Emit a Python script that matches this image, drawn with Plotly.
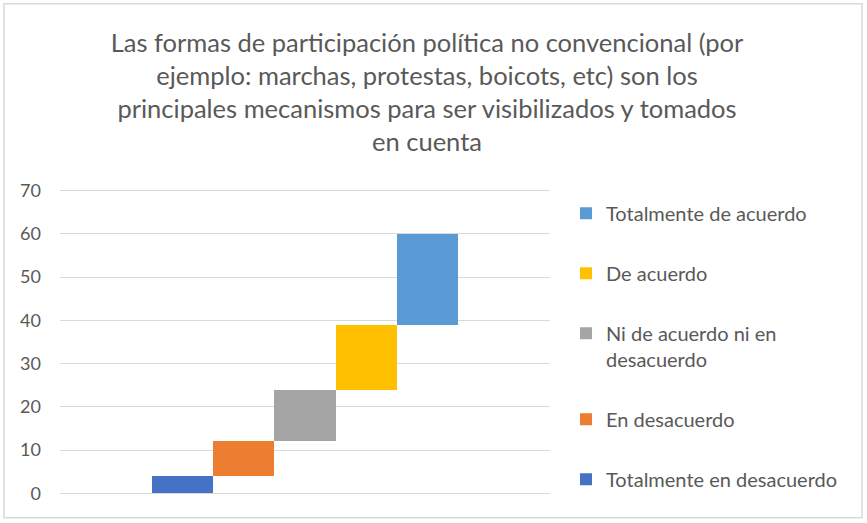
import plotly.graph_objects as go

# datos
categorias = ["Totalmente en desacuerdo", "En desacuerdo", "Ni de acuerdo ni en desacuerdo",
              "De acuerdo", "Totalmente de acuerdo"]
etiquetas = ["Totalmente en desacuerdo", "En desacuerdo", "Ni de acuerdo ni en<br>desacuerdo",
             "De acuerdo", "Totalmente de acuerdo"]
valores = [4, 8, 12, 15, 21]
colores = ["#4472C4", "#ED7D31", "#A5A5A5", "#FFC000", "#5B9BD5"]

titulo = ("Las formas de participación política no convencional (por<br>"
          "ejemplo: marchas, protestas, boicots, etc) son los<br>"
          "principales mecanismos para ser visibilizados y tomados<br>"
          "en cuenta")

W, H = 867, 523
ml, mr, mt, mb = 60, 317, 189.3, 27.8
fuente = "Lato"
gris = "#595959"

fig = go.Figure()

# cada respuesta arranca donde termina la anterior (cascada)
base = 0
for i, (cat, etq, val, col) in enumerate(zip(categorias, etiquetas, valores, colores)):
    fig.add_trace(go.Bar(x=[cat], y=[val], base=[base], name=etq,
                         marker_color=col, marker_line_width=0,
                         legendgroup=cat, legendrank=1000 - i))
    base += val

# borde del área del gráfico (como en Excel)
pw, ph = W - ml - mr, H - mt - mb
fig.add_shape(type="rect", xref="paper", yref="paper",
              x0=(4 - ml) / pw, x1=(862 - ml) / pw,
              y0=((H - 518) - mb) / ph, y1=(H - 4 - mb) / ph,
              line=dict(color="#D9D9D9", width=1.5), fillcolor="rgba(0,0,0,0)",
              layer="below")

fig.update_layout(
    width=W, height=H,
    margin=dict(l=ml, r=mr, t=mt, b=mb),
    paper_bgcolor="white", plot_bgcolor="rgba(0,0,0,0)",
    font=dict(family=fuente, color=gris, size=18),
    title=dict(text=titulo, x=427 / W, xanchor="center", xref="container",
               y=1 - 52 / H, yanchor="top", yref="container",
               font=dict(family=fuente, size=25.5, color=gris)),
    barmode="overlay", bargap=0,
    showlegend=True,
    legend=dict(x=(566 - ml) / pw, xanchor="left", y=1 - (194 - mt) / ph, yanchor="top",
                traceorder="grouped", tracegroupgap=31, valign="top",
                itemwidth=30, font=dict(size=20, color=gris), bgcolor="rgba(0,0,0,0)"),
    xaxis=dict(type="category", range=[-2, 6], showticklabels=False, showgrid=False,
               zeroline=False, showline=False, fixedrange=True),
    yaxis=dict(range=[-0.4, 70.4], tickvals=[0, 10, 20, 30, 40, 50, 60, 70],
               showgrid=True, gridcolor="#D9D9D9", gridwidth=1.3,
               zeroline=False, showline=False, ticks="", ticklabelstandoff=18,
               tickfont=dict(size=18, color=gris)),
)

# sin el margen por defecto del <body>, la figura ocupa toda la ventana
fig.write_html("out.html", config={"displayModeBar": False},
               post_script="document.body.style.margin = '0';")
